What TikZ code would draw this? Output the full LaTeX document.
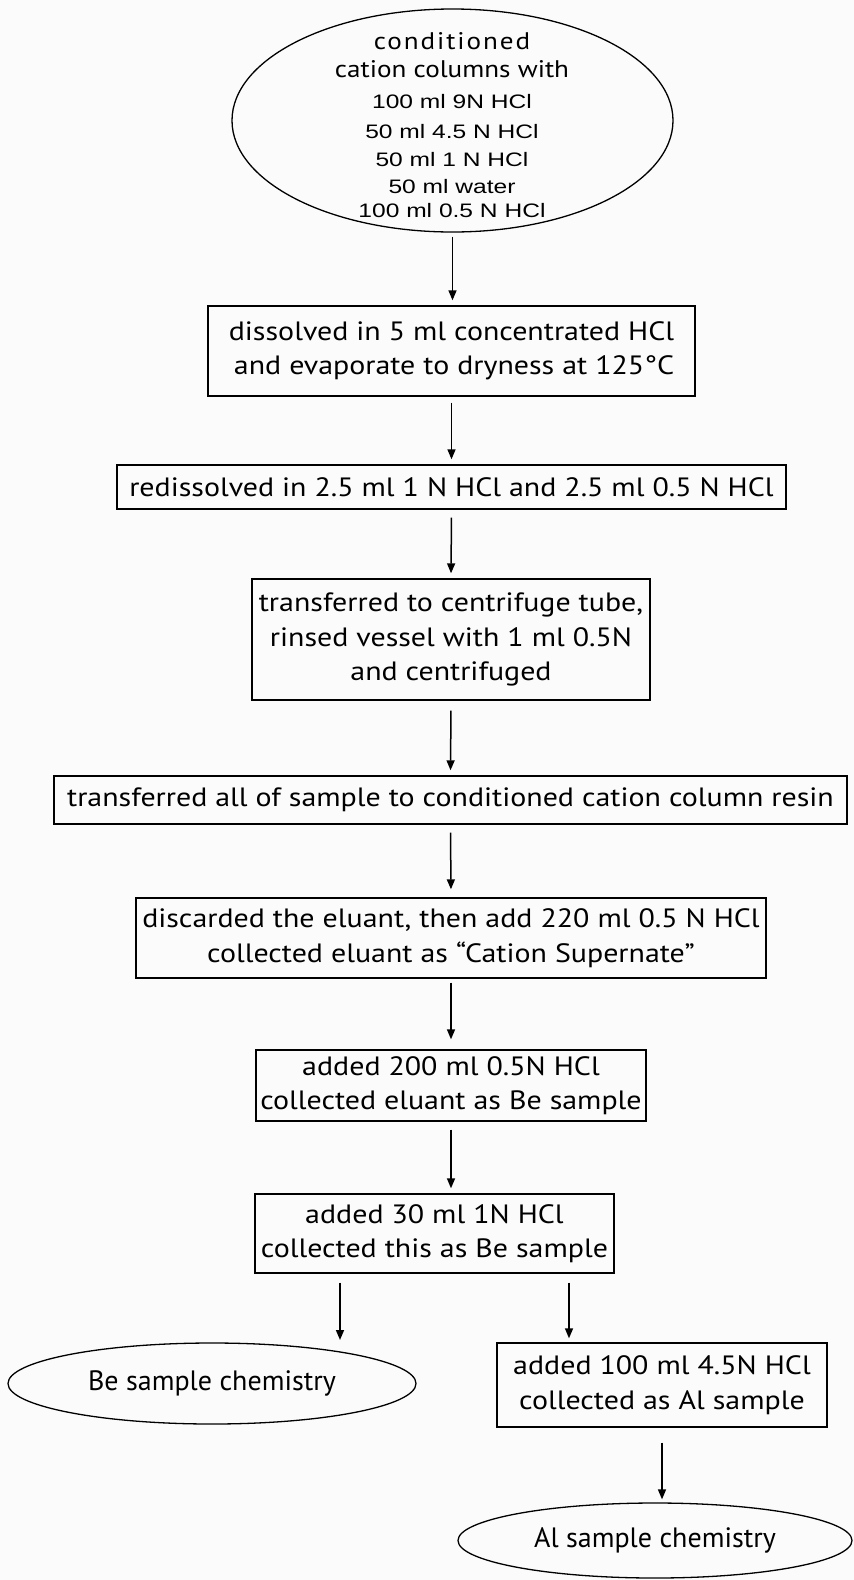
\documentclass[tikz,border=0pt]{standalone}
\usepackage{fontspec}
\setmainfont{PT Sans}
\newfontfamily\bxfont{PT Sans}[FakeStretch=1.13]
\newfontfamily\bxwide{PT Sans}[FakeStretch=1.13,LetterSpace=8]
\newfontfamily\arfont{Liberation Sans}[FakeStretch=1.26]
\newfontfamily\plfont{PT Sans}
\usetikzlibrary{arrows.meta,shapes.geometric}
\definecolor{bg}{RGB}{251,251,251}
\begin{document}
\begin{tikzpicture}[x=1pt,y=-1pt,
  box/.style={draw, line width=1.4pt, inner sep=0pt, align=center,
    font=\bxfont\fontsize{26.5pt}{34.5pt}\selectfont},
  ell/.style={draw, ellipse, line width=1.3pt, inner sep=0pt},
  arr/.style={line width=1.5pt, -{Triangle[length=10pt,width=8pt]},
    shorten <=6pt, shorten >=5pt}]
\path[fill=bg] (0,0) rectangle (854,1580);

% top ellipse
\node[ell, minimum width=441pt, minimum height=223pt] (top) at (452.5,120.5) {};
\node[align=center, inner sep=0pt, font=\arfont\fontsize{19.5pt}{24pt}\selectfont] (toptxt) at (452,125)
 {{\bxwide\fontsize{24pt}{24pt}\selectfont conditioned}\\[4pt]
  {\bxfont\fontsize{24pt}{24pt}\selectfont cation columns with}\\[7pt]
  100 ml 9N HCl\\[6pt]
  50 ml 4.5 N HCl\\[4pt]
  50 ml 1 N HCl\\[3pt]
  50 ml water\\
  100 ml 0.5 N HCl};

% boxes
\node[box, align=right, minimum width=487pt, minimum height=90pt] (b1) at (451.5,351)
 {dissolved in 5 ml concentrated HCl\\and evaporate to dryness at 125°C};
\node[box, minimum width=669pt, minimum height=44pt] (b2) at (451.5,487)
 {redissolved in 2.5 ml 1 N HCl and 2.5 ml 0.5 N HCl};
\node[box, minimum width=398pt, minimum height=121pt] (b3) at (451,639.5)
 {transferred to centrifuge tube,\\rinsed vessel with 1 ml 0.5N\\and centrifuged};
\node[box, minimum width=793pt, minimum height=48pt] (b4) at (450.5,800)
 {transferred all of sample to conditioned cation column resin};
\node[box, minimum width=630pt, minimum height=80pt] (b5) at (451,938)
 {discarded the eluant, then add 220 ml 0.5 N HCl\\collected eluant as “Cation Supernate”};
\node[box, minimum width=390pt, minimum height=71pt] (b6) at (451,1085.5)
 {added 200 ml 0.5N HCl\\collected eluant as Be sample};
\node[box, minimum width=359pt, minimum height=79pt] (b7) at (434.5,1233.5)
 {added 30 ml 1N HCl\\collected this as Be sample};
\node[ell, minimum width=408pt, minimum height=81pt,
  font=\plfont\fontsize{28pt}{34pt}\selectfont] (be) at (212,1383.5) {Be sample chemistry};
\node[box, minimum width=330pt, minimum height=84pt] (al) at (662,1385)
 {added 100 ml 4.5N HCl\\collected as Al sample};
\node[ell, minimum width=394pt, minimum height=75pt,
  font=\plfont\fontsize{28pt}{34pt}\selectfont] (alc) at (655,1540.5) {Al sample chemistry};

% connectors
\coordinate (bex) at (340,1340);
\coordinate (alx) at (569,1340);
\draw[arr, shorten <=4pt] (top.south) -- (top.south |- b1.north);
\draw[arr] (b1.south) -- (b2.north);
\draw[arr, shorten <=8pt] (b2.south) -- (b3.north);
\draw[arr, shorten <=10pt] (b3.south) -- (b4.north);
\draw[arr, shorten <=8pt, shorten >=8pt] (b4.south) -- (b5.north);
\draw[arr, shorten <=4pt, shorten >=10pt] (b5.south) -- (b6.north);
\draw[arr, shorten <=8pt] (b6.south) -- (b6.south |- b7.north);
\draw[arr, shorten <=9pt, shorten >=0pt] (b7.south -| bex) -- (bex);
\draw[arr, shorten <=9pt, shorten >=4pt] (b7.south -| alx) -- (alx |- al.north);
\draw[arr, shorten <=15pt, shorten >=3pt] (al.south) -- (al.south |- alc.north);
\end{tikzpicture}
\end{document}
